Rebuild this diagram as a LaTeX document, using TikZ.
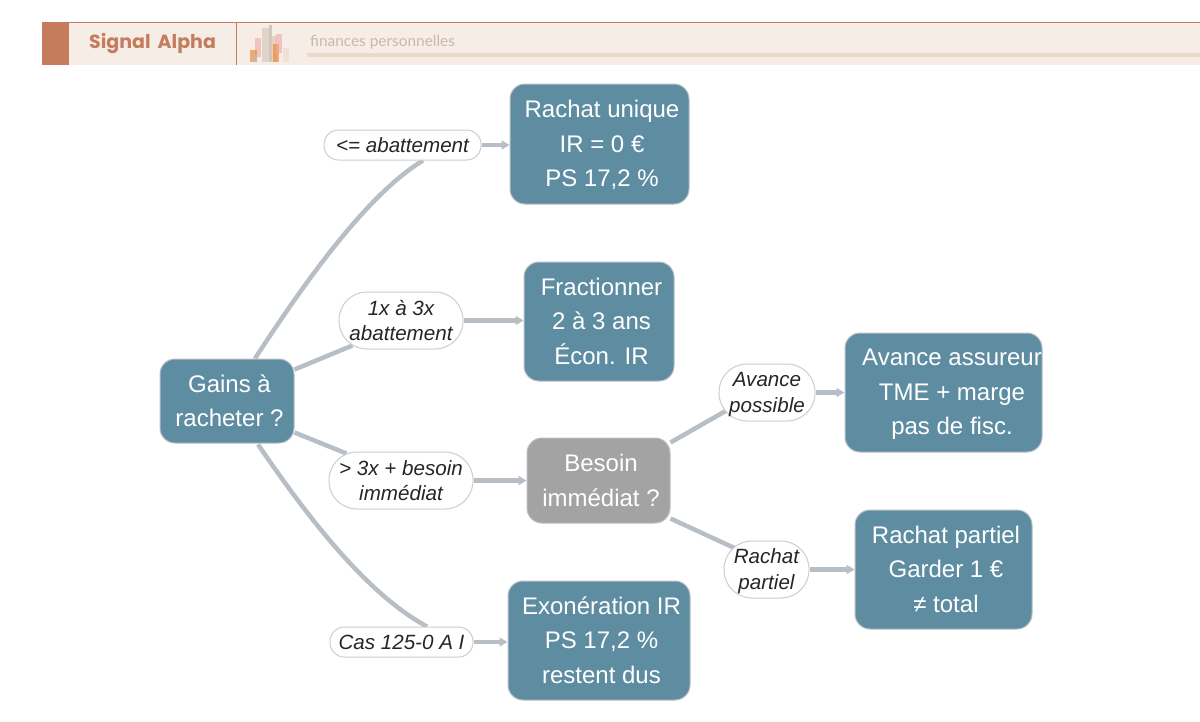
\documentclass[tikz,border=0pt]{standalone}
\usepackage{fontspec}
\setmainfont{Liberation Sans}
\newfontfamily\popf{Poppins}
\newfontfamily\latof{Lato}
\usetikzlibrary{calc,backgrounds,arrows.meta}
\definecolor{teal}{HTML}{5E8DA2}
\definecolor{grayb}{HTML}{A3A3A3}
\definecolor{edgec}{HTML}{B8BEC6}
\definecolor{pillb}{HTML}{CACDD2}
\definecolor{hdr}{HTML}{F7EDE7}
\definecolor{rust}{HTML}{C47C5C}
\definecolor{tan}{HTML}{C9B9A5}
\definecolor{barc}{HTML}{E8D9CB}
\tikzset{
 x=1pt,y=-1pt,
 boxn/.style={draw=edgec,line width=1pt,rounded corners=15pt,fill=teal,text=white,inner sep=0pt,align=center,
   font=\fontsize{24}{34.5}\selectfont},
 graybox/.style={boxn,fill=grayb},
 pill/.style={draw=pillb,line width=1pt,rounded corners=#1,fill=white,text=black!85,inner sep=0pt,align=center,
   font=\fontsize{20.6}{25.5}\selectfont\itshape},
 curve/.style={draw=edgec,line width=4.5pt},
 arrowc/.style={draw=edgec,line width=4.5pt,-{Triangle[length=8pt,width=9pt]}},
 sky/.style={opacity=.6,draw=none}
}
\newcommand{\rbox}[6]{\node[#1,minimum width=#4-#3,minimum height=#6-#5] (#2) at ({(#3+#4)/2},{(#5+#6)/2})}
\newcommand{\tl}[1]{\hspace*{5pt}\raisebox{0pt}[\dimexpr\height+3pt\relax][\depth]{\begin{tabular}{@{}c@{}}#1\end{tabular}}}
\newcommand{\dn}[1]{\raisebox{0pt}[\dimexpr\height+4pt\relax][\depth]{\begin{tabular}{@{}c@{}}#1\end{tabular}}}
\begin{document}
\begin{tikzpicture}
\useasboundingbox (0,0) rectangle (1200,721);
% header
\fill[hdr] (42,22) rectangle (1200,65);
\draw[rust,line width=.8pt] (42,22) -- (1200,22);
\fill[rust] (42,22) rectangle (69,65);
\draw[rust,line width=.8pt] (236.5,22) -- (236.5,65);
\node[anchor=west,inner sep=0pt,text=rust,font=\popf\bfseries\fontsize{19}{20}\selectfont] (brand) at (89,43) {Signal\hspace{3pt} Alpha};
\fill[barc] (307,53) rectangle (1200,57);
\node[anchor=west,inner sep=0pt,text=tan,font=\latof\fontsize{15.4}{16}\selectfont] (sub) at (310,42) {finances personnelles};
\fill[sky,fill=pink!70!rust] (255,38) rectangle (261,57);
\fill[sky,fill=orange!70!rust] (250,50) rectangle (257,62);
\fill[sky,fill=barc!85!black] (252,54) rectangle (257,62);
\fill[sky,fill=barc!90!black] (262,28) rectangle (268.5,62);
\fill[sky,fill=barc!80!black] (268.5,25) rectangle (272,62);
\fill[sky,fill=barc!70!rust] (272,36) rectangle (277,62);
\fill[sky,fill=orange!70!rust] (273,44) rectangle (279,62);
\fill[sky,fill=pink!70!rust] (276,34) rectangle (282,53);
\fill[sky,fill=barc] (283,48) rectangle (289,62);
% boxes
\rbox{boxn}{gains}{160}{294}{359}{443} {\tl{Gains à\\racheter ?}};
\rbox{boxn}{unique}{510}{689}{84}{204} {\tl{Rachat unique\\IR = 0 €\\PS 17,2 \%}};
\rbox{boxn}{fract}{524}{674}{262}{381} {\tl{Fractionner\\2 à 3 ans\\Écon. IR}};
\rbox{graybox}{besoin}{527}{670}{438}{523} {\tl{Besoin\\immédiat ?}};
\rbox{boxn}{avance}{845}{1042}{333}{452} {};
\node[text=white,align=center,inner sep=0pt,font=\fontsize{24}{34.5}\selectfont,anchor=center] (avancet) at (952,394.5) {Avance assureur\\TME + marge\\pas de fisc.};
\rbox{boxn}{partiel}{855}{1032}{510}{629} {\tl{Rachat partiel\\Garder 1 €\\≠ total}};
\rbox{boxn}{exo}{508}{690}{581}{700} {\tl{Exonération IR\\PS 17,2 \%\\restent dus}};
% pills
\rbox{pill=14.5pt}{p1}{324}{481}{130}{160} {<= abattement};
\rbox{pill=28pt}{p2}{339}{463}{292}{349} {1x à 3x\\abattement};
\rbox{pill=28pt}{p3}{329}{473}{452}{509} {> 3x + besoin\\immédiat};
\rbox{pill=14.5pt}{p4}{330}{473}{627}{657} {Cas 125-0 A I};
\rbox{pill=28pt}{p5}{719}{815}{364}{421} {\dn{Avance\\possible}};
\rbox{pill=28pt}{p6}{724}{809}{541}{598} {\dn{Rachat\\partiel}};
% connectors
\begin{scope}[on background layer]
\draw[curve] ($(gains.north)+(28,0)$) .. controls ($(gains.north)+(73,-69)$) and ($(p1.south)+(-37.5,35)$) .. ($(p1.south)+(20.5,0)$);
\draw[curve] ($(gains.north east)+(0,11)$) -- ($(p2.south west)+(14,-4)$);
\draw[curve] ($(gains.south east)+(0,-11)$) -- ($(p3.north west)+(18,2)$);
\draw[curve] ($(gains.south)+(31,1)$) .. controls ($(gains.south)+(73,62)$) and ($(p4.north)+(-39.5,-35)$) .. ($(p4.north)+(25.5,0)$);
\draw[curve] ($(besoin.north east)+(0,5)$) -- ($(p5.south west)+(8,-11)$);
\draw[curve] ($(besoin.south east)+(0,-5)$) -- ($(p6.north west)+(12,8)$);
\draw[arrowc] (p1.east) -- (unique.west |- p1.east);
\draw[arrowc] (p2.east) -- (fract.west |- p2.east);
\draw[arrowc] (p3.east) -- (besoin.west |- p3.east);
\draw[arrowc] (p4.east) -- (exo.west |- p4.east);
\draw[arrowc] (p5.east) -- (avance.west |- p5.east);
\draw[arrowc] (p6.east) -- (partiel.west |- p6.east);
\end{scope}
\end{tikzpicture}
\end{document}
